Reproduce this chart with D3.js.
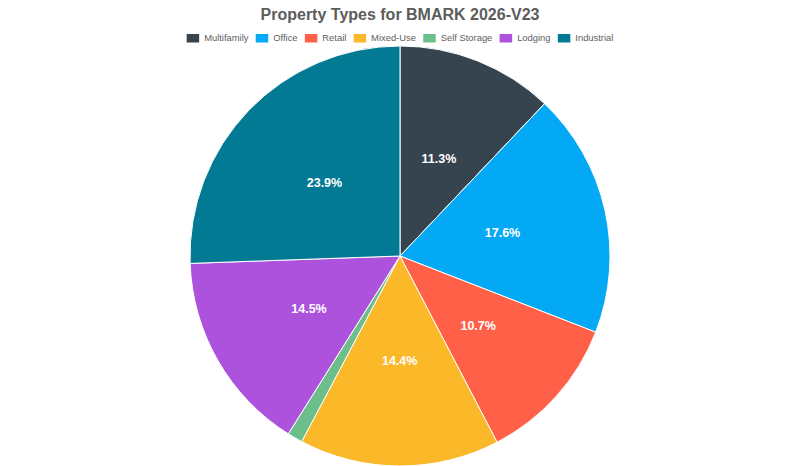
<!DOCTYPE html>
<html>
<head>
<meta charset="utf-8">
<script src="https://cdn.jsdelivr.net/npm/d3@7"></script>
<style>
  body { margin: 0; background: #fff; }
  svg { display: block; font-family: "Liberation Sans", Arial, sans-serif; }
</style>
</head>
<body>
<script>
// chart data
const categories = ["Multifamily", "Office", "Retail", "Mixed-Use", "Self Storage", "Lodging", "Industrial"];
const shares = [11.3, 17.6, 10.7, 14.4, 1.1, 14.5, 23.9];
const colors = ["#36444f", "#03a9f4", "#ff6047", "#fbb829", "#6cbf8a", "#ad52dd", "#037a93"];

const width = 800, height = 466;
const cx = 400, cy = 256, radius = 210;

const svg = d3.select("body").append("svg")
  .attr("width", width)
  .attr("height", height);

// title
svg.append("text")
  .attr("x", width / 2)
  .attr("y", 20)
  .attr("text-anchor", "middle")
  .attr("font-size", 16)
  .attr("font-weight", "bold")
  .attr("fill", "#5c5c5c")
  .text("Property Types for BMARK 2026-V23");

// legend, laid out by measured text widths then centred
const legend = svg.append("g");
let lx = 0;
categories.forEach(function(name, i) {
  const item = legend.append("g").attr("transform", "translate(" + lx + ",0)");
  item.append("rect")
    .attr("x", 0).attr("y", -3)
    .attr("width", 12.5).attr("height", 8.5)
    .attr("fill", colors[i]);
  const t = item.append("text")
    .attr("x", 17.5).attr("y", 3.5)
    .attr("font-size", 9.4)
    .attr("fill", "#606060")
    .text(name);
  lx += 17.5 + t.node().getComputedTextLength() + 7.3;
});
legend.attr("transform", "translate(" + (width / 2 - (lx - 7.3) / 2) + ",37)");

// pie
const color = d3.scaleOrdinal().domain(categories).range(colors);
const pie = d3.pie().sort(null).value(function(d) { return d.v; });
const arcs = pie(categories.map(function(c, i) { return {name: c, v: shares[i]}; }));
const arc = d3.arc().innerRadius(0).outerRadius(radius);
const labelArc = d3.arc().innerRadius(radius * 0.5).outerRadius(radius * 0.5);

const g = svg.append("g").attr("transform", "translate(" + cx + "," + cy + ")");

g.selectAll("path")
  .data(arcs)
  .enter().append("path")
  .attr("d", arc)
  .attr("fill", function(d) { return color(d.data.name); })
  .attr("stroke", "#fff")
  .attr("stroke-width", 1);

g.selectAll("text.lbl")
  .data(arcs.filter(function(d) { return d.data.v > 5; }))
  .enter().append("text")
  .attr("class", "lbl")
  .attr("transform", function(d) { return "translate(" + labelArc.centroid(d) + ")"; })
  .attr("text-anchor", "middle")
  .attr("dy", "0.35em")
  .attr("font-size", 12.5)
  .attr("font-weight", "bold")
  .attr("fill", "#fff")
  .text(function(d) { return d.data.v.toFixed(1) + "%"; });
</script>
</body>
</html>
